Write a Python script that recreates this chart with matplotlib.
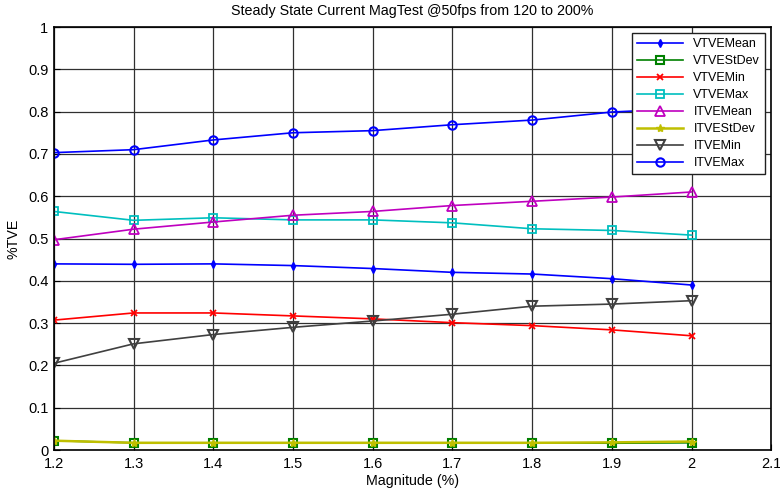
import numpy as np
import matplotlib
matplotlib.use("Agg")
from matplotlib import pyplot as plt

plt.rcParams['font.family'] = ['Liberation Sans', 'DejaVu Sans']

magnitude = [1.2, 1.3, 1.4, 1.5, 1.6, 1.7, 1.8, 1.9, 2.0]

vtve_mean = [0.440, 0.439, 0.440, 0.436, 0.429, 0.420, 0.416, 0.405, 0.390]
vtve_stdev = [0.022, 0.017, 0.017, 0.017, 0.017, 0.017, 0.017, 0.016, 0.017]
vtve_min = [0.307, 0.324, 0.324, 0.317, 0.310, 0.301, 0.294, 0.284, 0.270]
vtve_max = [0.564, 0.543, 0.549, 0.544, 0.544, 0.537, 0.523, 0.519, 0.508]
itve_mean = [0.497, 0.522, 0.539, 0.555, 0.564, 0.578, 0.588, 0.598, 0.610]
itve_stdev = [0.022, 0.017, 0.017, 0.017, 0.017, 0.017, 0.017, 0.018, 0.020]
itve_min = [0.205, 0.251, 0.273, 0.290, 0.305, 0.321, 0.340, 0.345, 0.353]
itve_max = [0.703, 0.710, 0.733, 0.750, 0.755, 0.769, 0.780, 0.799, 0.808]

fig = plt.figure(figsize=(7.8, 4.91), dpi=100)
ax = fig.add_axes([0.069, 0.0835, 0.92, 0.8615])

ax.plot(magnitude, vtve_mean, '-d', color='#0000ff', ms=4, lw=1.2, label='VTVEMean')
ax.plot(magnitude, vtve_stdev, '-s', color='#008000', ms=6, mfc='none', mew=1.5, lw=1.2, label='VTVEStDev')
ax.plot(magnitude, vtve_min, '-x', color='#ff0000', ms=4, mew=1.3, lw=1.2, label='VTVEMin')
ax.plot(magnitude, vtve_max, '-s', color='#00bfbf', ms=6, mfc='none', mew=1.3, lw=1.2, label='VTVEMax')
ax.plot(magnitude, itve_mean, '-^', color='#bf00bf', ms=7, mfc='none', mew=1.3, lw=1.2, label='ITVEMean')
ax.plot(magnitude, itve_stdev, '-*', color='#bfbf00', ms=6, lw=1.8, label='ITVEStDev')
ax.plot(magnitude, itve_min, '-v', color='#404040', ms=7, mfc='none', mew=1.5, lw=1.2, label='ITVEMin')
ax.plot(magnitude, itve_max, '-o', color='#0000ff', ms=6, mfc='none', mew=1.5, lw=1.2, label='ITVEMax')

ax.set_xlim(1.2, 2.1)
ax.set_ylim(0, 1)
ax.set_xticks(np.arange(1.2, 2.11, 0.1))
ax.set_xticklabels(['1.2', '1.3', '1.4', '1.5', '1.6', '1.7', '1.8', '1.9', '2', '2.1'])
ax.set_yticks(np.arange(0, 1.01, 0.1))
ax.set_yticklabels(['0', '0.1', '0.2', '0.3', '0.4', '0.5', '0.6', '0.7', '0.8', '0.9', '1'])
ax.tick_params(direction='in', labelsize=10.5, length=4)
ax.tick_params(axis='x', pad=5)
ax.tick_params(axis='y', pad=4)
ax.grid(True, color='#303030', lw=0.9)
ax.set_axisbelow(True)
for s in ax.spines.values():
    s.set_linewidth(1.2)

ax.set_title('Steady State Current MagTest @50fps from 120 to 200%', fontsize=10.3, pad=9)
ax.set_xlabel('Magnitude (%)', fontsize=10.3, labelpad=2)
ax.set_ylabel('%TVE', fontsize=10.3, labelpad=5)

leg = ax.legend(loc='upper right', fontsize=9, handlelength=3.7, fancybox=False,
                framealpha=1, edgecolor='#202020', borderaxespad=0.5, labelspacing=0.4)
leg.get_frame().set_linewidth(1.0)

plt.savefig('out.png', dpi=100)
